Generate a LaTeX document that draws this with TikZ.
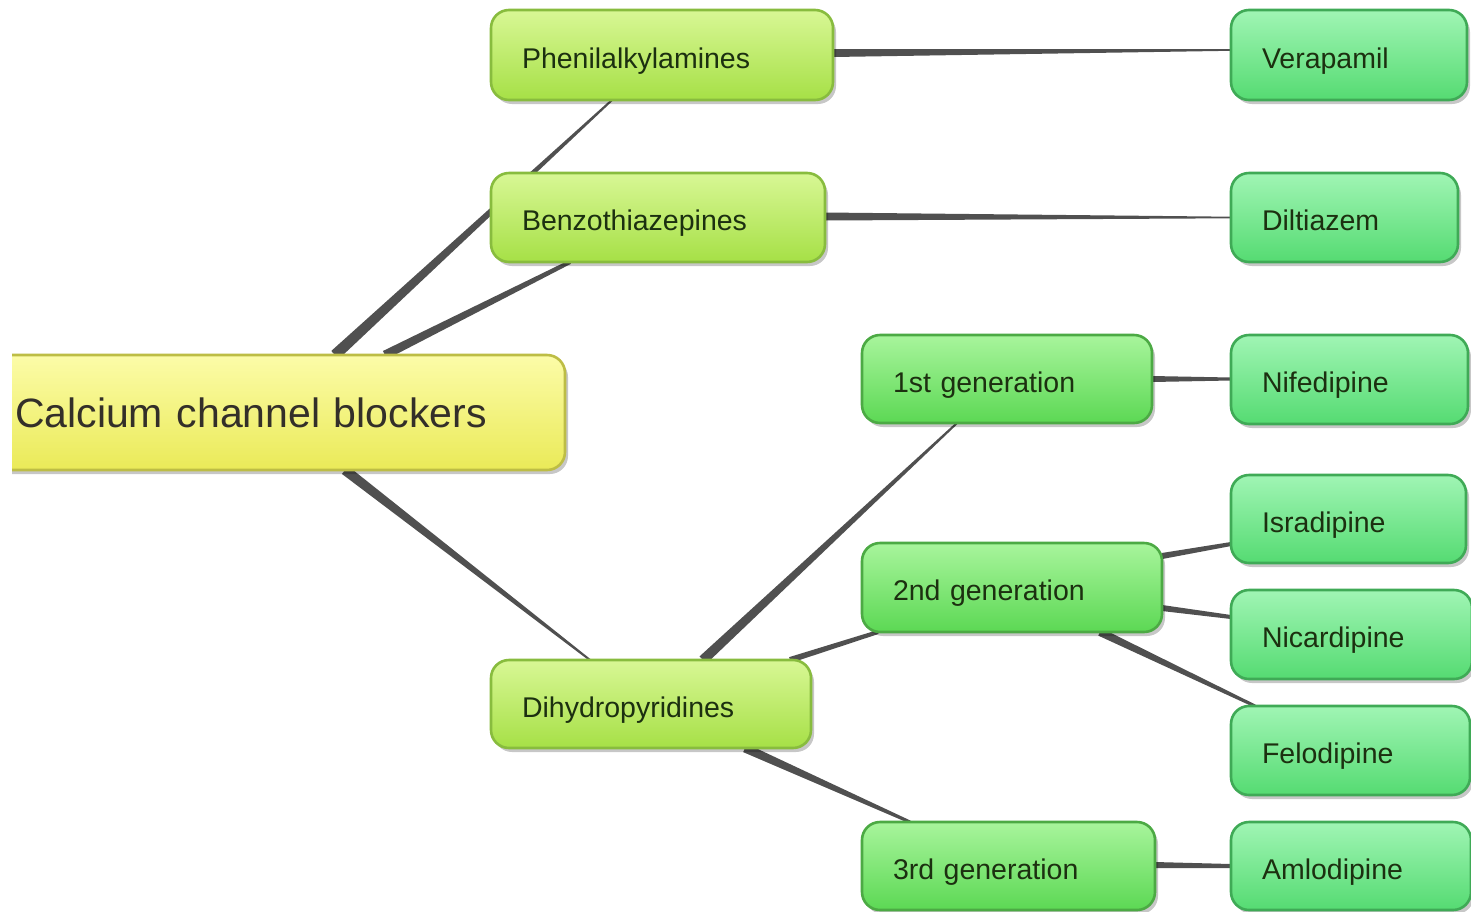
\documentclass[tikz,border=0pt]{standalone}
\usepackage{fontspec}
\setmainfont{Liberation Sans}
\usetikzlibrary{calc,shadows}
\pgfdeclarelayer{bg}
\pgfsetlayers{bg,main}
\definecolor{rootTop}{HTML}{FCFCA8}
\definecolor{rootBot}{HTML}{EAEA58}
\definecolor{rootBrd}{HTML}{BDBD45}
\definecolor{secTop}{HTML}{D8F795}
\definecolor{secBot}{HTML}{A6E046}
\definecolor{secBrd}{HTML}{88BC3E}
\definecolor{genTop}{HTML}{A8F59C}
\definecolor{genBot}{HTML}{5CD854}
\definecolor{genBrd}{HTML}{4CAA44}
\definecolor{leafTop}{HTML}{A0F5B4}
\definecolor{leafBot}{HTML}{55DB72}
\definecolor{leafBrd}{HTML}{3FAA56}
\definecolor{txt}{HTML}{1C3010}
\definecolor{connCol}{HTML}{505050}
\newcommand\taper[4]{\fill[connCol] ($(#1)!#3!90:(#2)$) -- ($(#2)!#4!-90:(#1)$) -- ($(#2)!#4!90:(#1)$) -- ($(#1)!#3!-90:(#2)$) -- cycle;}
\begin{document}
\begin{tikzpicture}[x=1pt,y=-1pt,
  box/.style={rounded corners=18pt, line width=2.6pt, outer sep=0pt, anchor=west,
    inner xsep=31pt, inner ysep=0pt, align=left, text=txt,
    font=\fontsize{28.5}{34}\selectfont,
    drop shadow={shadow xshift=3pt, shadow yshift=-4pt, opacity=0.22, fill=black}},
  small/.style={text height=30pt, text depth=3.6pt},
  rootbox/.style={box, draw=rootBrd, top color=rootTop, bottom color=rootBot,
    inner xsep=25pt, font=\fontsize{41}{48}\selectfont, text=black!85!olive},
  secbox/.style={box, small, draw=secBrd, top color=secTop, bottom color=secBot},
  genbox/.style={box, small, draw=genBrd, top color=genTop, bottom color=genBot},
  leafbox/.style={box, small, draw=leafBrd, top color=leafTop, bottom color=leafBot}]
\useasboundingbox (0,0) rectangle (1471,911);

% nodes
\node[rootbox, text width=525pt, minimum height=115pt] (root) at (-10,412.5) {Calcium channel blockers};
\node[secbox, text width=280pt, minimum height=90pt] (phen) at (491,55) {Phenilalkylamines};
\node[secbox, text width=272pt, minimum height=89pt] (benzo) at (491,217.5) {Benzothiazepines};
\node[secbox, text width=258pt, minimum height=88pt] (dihy) at (491,704) {Dihydropyridines};
\node[genbox, text width=228pt, minimum height=88pt] (gen1) at (862,379) {1st generation};
\node[genbox, text width=238pt, minimum height=89pt] (gen2) at (862,587.5) {2nd generation};
\node[genbox, text width=231pt, minimum height=88pt] (gen3) at (862,866) {3rd generation};
\node[leafbox, text width=174pt, minimum height=90pt] (vera) at (1231,55) {Verapamil};
\node[leafbox, text width=165pt, minimum height=89pt] (dilt) at (1231,217.5) {Diltiazem};
\node[leafbox, text width=175pt, minimum height=89pt] (nife) at (1231,379.5) {Nifedipine};
\node[leafbox, text width=173pt, minimum height=88pt] (isra) at (1231,519) {Isradipine};
\node[leafbox, text width=179pt, minimum height=89pt] (nica) at (1231,634.5) {Nicardipine};
\node[leafbox, text width=177pt, minimum height=89pt] (felo) at (1231,750.5) {Felodipine};
\node[leafbox, text width=178pt, minimum height=88pt] (amlo) at (1231,866) {Amlodipine};
\fill[white] (0,0) rectangle (12,911);

% connector end points
\coordinate (a1) at ($(root.north west)+(345,0)$);
\coordinate (b1) at ($(phen.south west)+(121,0)$);
\coordinate (a2) at ($(root.north west)+(395,0)$);
\coordinate (b2) at ($(benzo.south west)+(79,0)$);
\coordinate (a3) at ($(root.south west)+(355,0)$);
\coordinate (b3) at ($(dihy.north west)+(99,0)$);
\coordinate (a4) at ($(phen.east)+(0,-2)$);
\coordinate (b4) at ($(vera.west)+(0,-5)$);
\coordinate (a5) at ($(benzo.east)+(0,-1)$);
\coordinate (b5) at ($(dilt.west)+(0,0)$);
\coordinate (a6) at ($(dihy.north west)+(212,0)$);
\coordinate (b6) at ($(gen1.south west)+(95,0)$);
\coordinate (a7) at ($(dihy.north west)+(299,0)$);
\coordinate (b7) at ($(gen2.south west)+(16,0)$);
\coordinate (a8) at ($(dihy.south west)+(254,0)$);
\coordinate (b8) at ($(gen3.north west)+(48,0)$);
\coordinate (a9) at ($(gen1.east)+(0,0)$);
\coordinate (b9) at ($(nife.west)+(0,-0.5)$);
\coordinate (a10) at ($(gen2.east)+(0,-31.5)$);
\coordinate (b10) at ($(isra.west)+(0,25)$);
\coordinate (a11) at ($(gen2.east)+(0,20.5)$);
\coordinate (b11) at ($(nica.west)+(0,-17.5)$);
\coordinate (a12) at ($(gen2.south west)+(238,0)$);
\coordinate (b12) at ($(felo.north west)+(24,0)$);
\coordinate (a13) at ($(gen3.east)+(0,-1)$);
\coordinate (b13) at ($(amlo.west)+(0,0)$);

\begin{pgfonlayer}{bg}
\fill[white] (0,0) rectangle (1471,911);
\taper{a1}{b1}{5.5pt}{1pt}
\taper{a2}{b2}{4.5pt}{2pt}
\taper{a3}{b3}{5pt}{1pt}
\taper{a4}{b4}{4pt}{0.8pt}
\taper{a5}{b5}{4pt}{0.8pt}
\taper{a6}{b6}{5pt}{1pt}
\taper{a7}{b7}{3pt}{2pt}
\taper{a8}{b8}{4.5pt}{1.5pt}
\taper{a9}{b9}{3pt}{1.5pt}
\taper{a10}{b10}{3pt}{2pt}
\taper{a11}{b11}{3pt}{2pt}
\taper{a12}{b12}{4pt}{1.5pt}
\taper{a13}{b13}{3pt}{2pt}
\end{pgfonlayer}
\end{tikzpicture}
\end{document}
